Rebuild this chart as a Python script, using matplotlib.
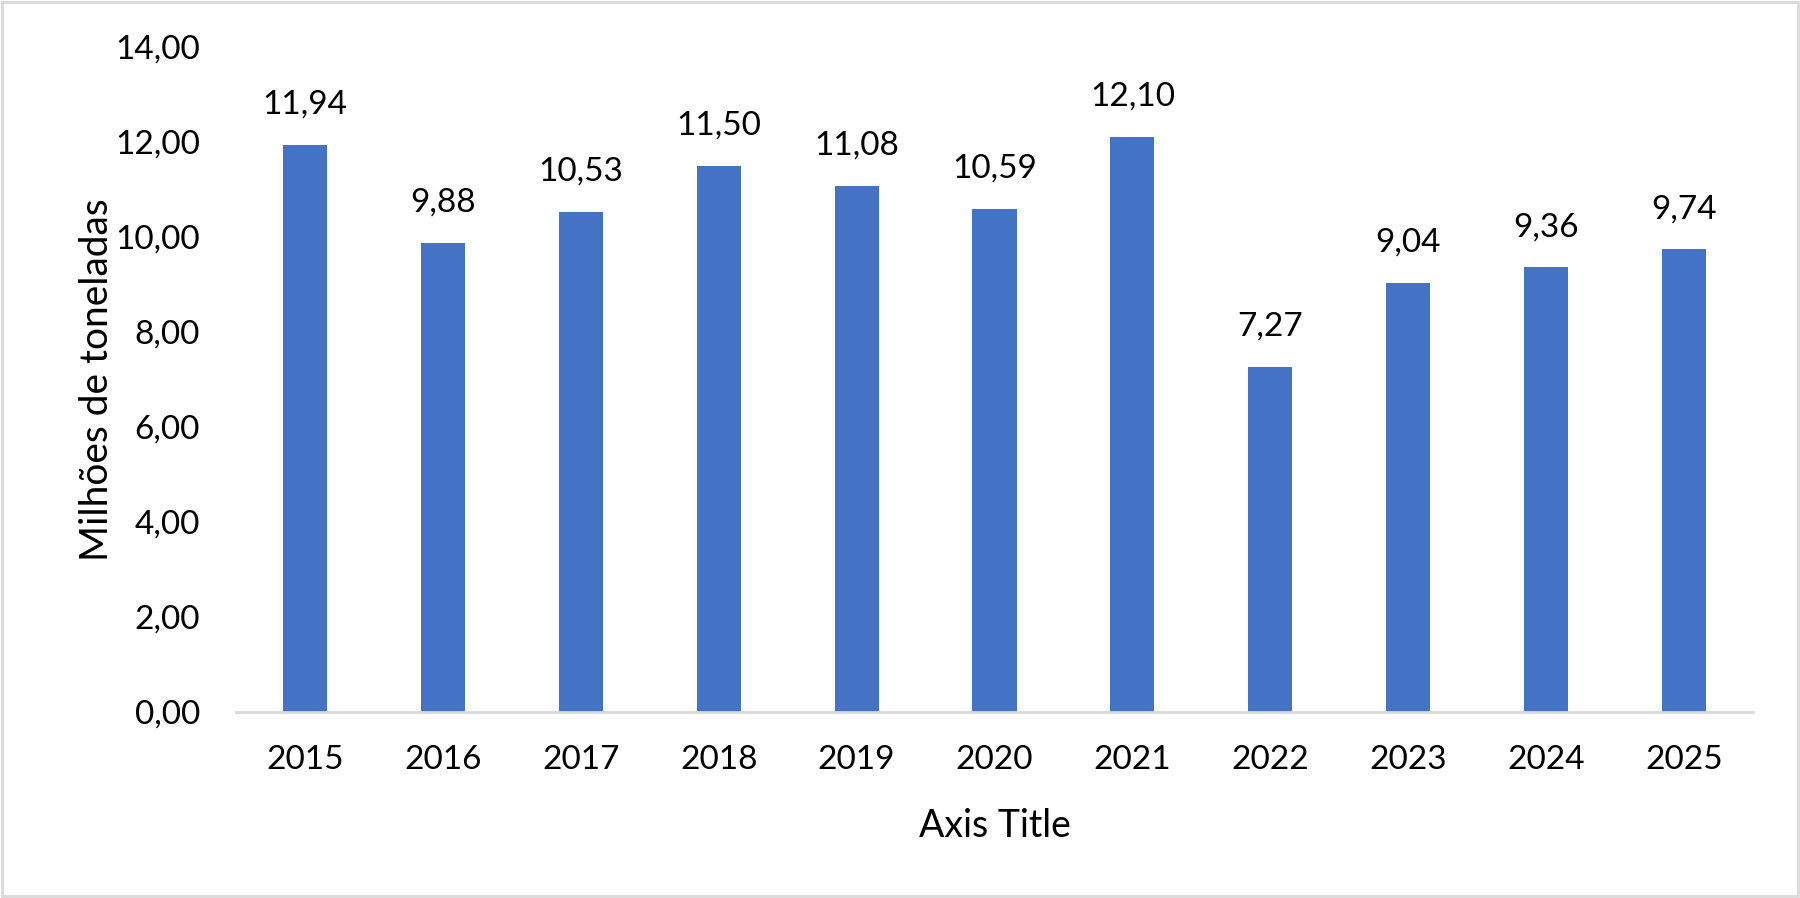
import matplotlib.pyplot as plt
from matplotlib.patches import Rectangle

years = ["2015", "2016", "2017", "2018", "2019", "2020", "2021", "2022", "2023", "2024", "2025"]
values = [11.94, 9.88, 10.53, 11.50, 11.08, 10.59, 12.10, 7.27, 9.04, 9.36, 9.74]
yticks = [0, 2, 4, 6, 8, 10, 12, 14]

plt.rcParams['font.family'] = ['Lato', 'DejaVu Sans']

fig = plt.figure(figsize=(18, 8.98), dpi=100)
ax = fig.add_axes([0.1311, 0.2071, 0.9739 - 0.1311, 0.9477 - 0.2071])

x = list(range(len(years)))
ax.bar(x, values, width=0.32, color='#4472C4', zorder=2)

# value labels above each bar, decimal comma
for xi, v in zip(x, values):
    ax.annotate(f"{v:.2f}".replace('.', ','), (xi, v), xytext=(0, 29),
                textcoords='offset points', ha='center', va='center', fontsize=24)

ax.set_xlim(-0.5, len(years) - 0.5)
ax.set_ylim(0, 14)
ax.set_yticks(yticks)
ax.set_yticklabels([f"{t:.2f}".replace('.', ',') for t in yticks], fontsize=24)
ax.set_xticks(x)
ax.set_xticklabels(years, fontsize=24)
ax.tick_params(axis='both', length=0)
ax.tick_params(axis='y', pad=26)
ax.tick_params(axis='x', pad=24)

for s in ['top', 'right', 'left']:
    ax.spines[s].set_visible(False)
ax.spines['bottom'].set_color('#D9D9D9')
ax.spines['bottom'].set_linewidth(2)

ax.set_ylabel("Milhões de toneladas", fontsize=28)
ax.yaxis.set_label_coords(-0.080, 0.5)
ax.set_xlabel("Axis Title", fontsize=27)
ax.xaxis.set_label_coords(0.5, -0.144)

fig.patches.append(Rectangle((0.001, 0.002), 0.998, 0.996, transform=fig.transFigure,
                             fill=False, edgecolor='#D9D9D9', linewidth=2))

fig.savefig("out.png", dpi=100)
